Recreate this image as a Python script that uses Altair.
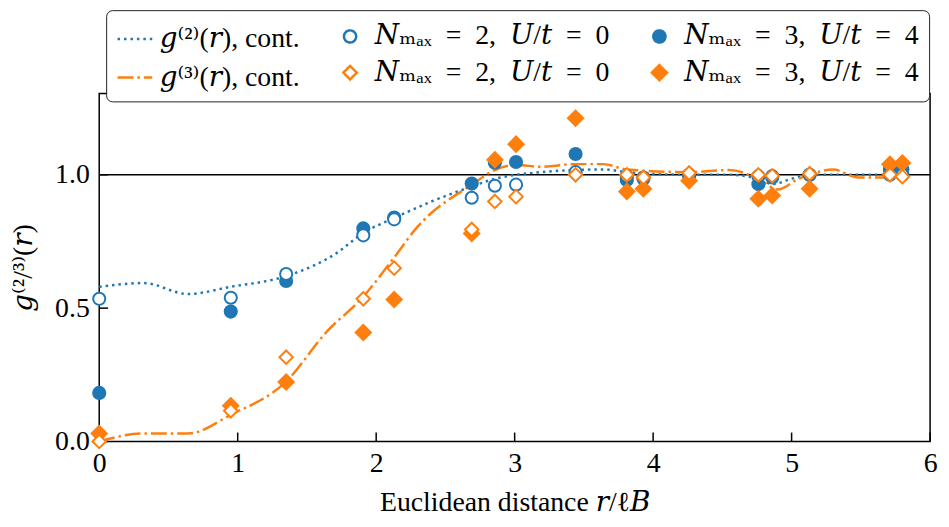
import altair as alt
import pandas as pd

# ---------------- data ----------------
r_lat = [0.0, 0.95, 1.35, 1.907, 2.13, 2.69, 2.857, 3.01, 3.44, 3.81, 3.93,
         4.26, 4.76, 4.86, 5.13, 5.71, 5.80]
g2_n2_u0 = [0.535, 0.539, 0.628, 0.773, 0.833, 0.914, 0.959, 0.963, 1.01, 0.995,
            0.99, 1.0, 0.995, 0.995, 1.0, 1.0, 1.0]
g2_n3_u4 = [0.182, 0.487, 0.602, 0.799, 0.84, 0.967, 1.045, 1.048, 1.078, 0.98,
            0.985, 0.995, 0.965, 0.99, 1.0, 1.02, 1.02]
g3_n2_u0 = [0.0, 0.115, 0.316, 0.535, 0.65, 0.795, 0.9, 0.918, 1.0, 1.0,
            0.99, 1.007, 1.0, 0.996, 1.004, 1.0, 0.993]
g3_n3_u4 = [0.03, 0.134, 0.223, 0.409, 0.532, 0.78, 1.056, 1.115, 1.212, 0.937,
            0.948, 0.978, 0.91, 0.922, 0.948, 1.04, 1.044]

g2_cont_x = [0.0, 0.32, 0.64, 0.95, 1.35, 1.71, 1.907, 2.13, 2.4, 2.69, 2.857,
             3.01, 3.19, 3.44, 3.64, 3.81, 4.26, 4.55, 4.76, 4.86, 5.0, 5.13,
             5.4, 5.71, 5.8]
g2_cont_y = [0.58, 0.594, 0.553, 0.58, 0.62, 0.705, 0.782, 0.838, 0.9, 0.956,
             0.985, 1.0, 1.01, 1.018, 1.02, 1.01, 1.0, 1.0, 0.985, 0.965, 0.985,
             1.0, 1.0, 1.0, 1.0]
g3_cont_x = [0.0, 0.32, 0.64, 0.95, 1.35, 1.64, 1.907, 2.13, 2.29, 2.69, 2.857,
             3.01, 3.19, 3.44, 3.64, 3.81, 4.26, 4.55, 4.76, 4.9, 5.05, 5.13,
             5.3, 5.48, 5.67, 5.8]
g3_cont_y = [0.0, 0.03, 0.03, 0.10, 0.225, 0.41, 0.543, 0.69, 0.80, 0.963, 1.018,
             1.037, 1.03, 1.04, 1.04, 1.02, 1.01, 1.018, 0.985, 0.945, 0.985, 1.0,
             1.02, 0.99, 0.99, 1.0]

x_ticks = [0, 1, 2, 3, 4, 5, 6]
y_ticks = [0.0, 0.5, 1.0]

# legend order (row-major, 3 columns); U+2002 en spaces give math spacing
series = ["𝑔⁽²⁾(𝑟), cont.",
          "𝑁ₘₐₓ\u2002=\u20022,\u2002𝑈/𝑡\u2002=\u20020 ",
          "𝑁ₘₐₓ\u2002=\u20023,\u2002𝑈/𝑡\u2002=\u20024 ",
          "𝑔⁽³⁾(𝑟), cont.",
          "𝑁ₘₐₓ\u2002=\u20022,\u2002𝑈/𝑡\u2002=\u20020",
          "𝑁ₘₐₓ\u2002=\u20023,\u2002𝑈/𝑡\u2002=\u20024"]
BLUE, ORANGE = "#1f77b4", "#ff7f0e"
stroke_range = [BLUE, BLUE, BLUE, ORANGE, ORANGE, ORANGE]
fill_range = ["transparent", "white", BLUE, "transparent", "white", ORANGE]
shape_range = ["stroke", "circle", "circle", "stroke", "diamond", "diamond"]
size_range = [1225, 150, 150, 1225, 185, 235]
dash_range = [[2.5, 4], [1, 0], [1, 0], [16, 4, 2.5, 4], [1, 0], [1, 0]]

# ---------------- tables ----------------
lines = pd.concat([
    pd.DataFrame({"r": g2_cont_x, "g": g2_cont_y, "s": series[0]}),
    pd.DataFrame({"r": g3_cont_x, "g": g3_cont_y, "s": series[3]}),
])
# draw order: filled circles, open circles, filled diamonds, open diamonds
pts = pd.concat([
    pd.DataFrame({"r": r_lat, "g": g2_n3_u4, "s": series[2]}),
    pd.DataFrame({"r": r_lat, "g": g2_n2_u0, "s": series[1]}),
    pd.DataFrame({"r": r_lat, "g": g3_n3_u4, "s": series[5]}),
    pd.DataFrame({"r": r_lat, "g": g3_n2_u0, "s": series[4]}),
]).reset_index(drop=True)
pts["o"] = range(len(pts))

W, H = 838, 351
FONT = "Liberation Serif, DejaVu Serif"
FS = 28
xs = alt.Scale(domain=[0, 6], nice=False, zero=False)
ys = alt.Scale(domain=[0, 1.305], nice=False, zero=False)

x_axis = alt.Axis(
    title="Euclidean distance 𝑟/ℓ𝐵", values=x_ticks, format="d",
    ticks=False, domain=False, grid=False, labelPadding=8, titlePadding=12,
    labelFont=FONT, labelFontSize=FS, titleFont=FONT, titleFontSize=FS,
    titleFontWeight="normal", labelColor="black", titleColor="black",
    labelFlush=False)
y_axis = alt.Axis(
    title="𝑔⁽²/³⁾(𝑟)", values=y_ticks, format=".1f",
    ticks=False, domain=False, grid=False, labelPadding=10, titlePadding=17,
    labelFont=FONT, labelFontSize=FS, titleFont=FONT, titleFontSize=FS,
    titleFontWeight="normal", labelColor="black", titleColor="black",
    labelFlush=False)

leg = alt.Legend(
    title=None, orient="none", legendX=7, legendY=-84, columns=3,
    direction="horizontal",
    labelFont=FONT, labelFontSize=FS, labelColor="black", labelOffset=6,
    fillColor="white", strokeColor="#222222", cornerRadius=6, padding=10,
    columnPadding=31, rowPadding=6, symbolStrokeWidth=2.5, labelLimit=400,
)

def sc(rng, t=None):
    if t:
        return alt.Scale(type=t, domain=series, range=rng)
    return alt.Scale(domain=series, range=rng)

X = alt.X("r:Q", scale=xs, axis=x_axis)
Y = alt.Y("g:Q", scale=ys, axis=y_axis)

line_layer = alt.Chart(lines).mark_line(strokeWidth=2.5, interpolate="monotone").encode(
    x=X, y=Y,
    stroke=alt.Stroke("s:N", scale=sc(stroke_range), legend=leg),
    strokeDash=alt.StrokeDash("s:N", scale=sc(dash_range), legend=leg),
    detail="s:N",
)

point_layer = alt.Chart(pts).mark_point(strokeWidth=2, opacity=1, filled=False).encode(
    x=X, y=Y,
    stroke=alt.Stroke("s:N", scale=sc(stroke_range), legend=leg),
    fill=alt.Fill("s:N", scale=sc(fill_range), legend=leg),
    shape=alt.Shape("s:N", scale=sc(shape_range), legend=leg),
    size=alt.Size("s:N", scale=sc(size_range, "ordinal"), legend=leg),
    order=alt.Order("o:Q"),
)

one_rule = alt.Chart(pd.DataFrame({"g": [1.0]})).mark_rule(
    color="black", strokeWidth=1.5).encode(y=Y)

xtick_layer = alt.Chart(pd.DataFrame({"r": x_ticks})).mark_rule(
    color="black", strokeWidth=1.5).encode(
    x=X, y=alt.value(H), y2=alt.value(H - 9))
ytick_layer = alt.Chart(pd.DataFrame({"g": y_ticks})).mark_rule(
    color="black", strokeWidth=1.5).encode(
    y=Y, x=alt.value(0), x2=alt.value(9))

chart = alt.layer(one_rule, xtick_layer, ytick_layer, line_layer, point_layer).properties(
    width=W, height=H, background="white",
    autosize=alt.AutoSizeParams(type="none"),
    padding={"left": 92, "top": 84, "right": 11, "bottom": 76},
).configure_view(stroke="black", strokeWidth=1.5)

chart.save("out.html", embed_options={"renderer": "svg", "actions": False})
